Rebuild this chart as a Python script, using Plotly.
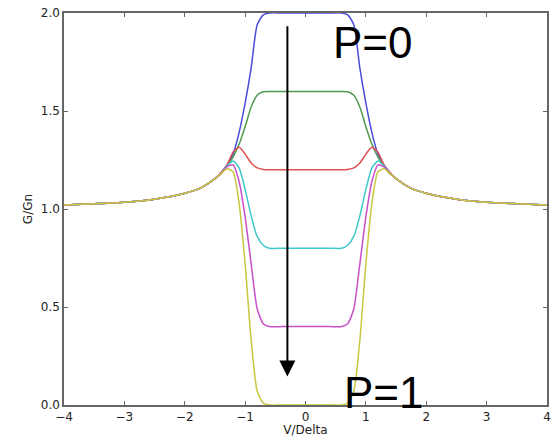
import plotly.graph_objects as go

# V/Delta grid
v = [-4, -3.5, -3, -2.5, -2, -1.75, -1.5, -1.4, -1.3, -1.2, -1.1, -1.0, -0.9, -0.8, -0.7, -0.6,
     -0.4, -0.2, 0, 0.2, 0.4,
     0.6, 0.7, 0.8, 0.9, 1.0, 1.1, 1.2, 1.3, 1.4, 1.5, 1.75, 2, 2.5, 3, 3.5, 4]

g_p00 = [1.02, 1.027, 1.035, 1.05, 1.08, 1.105, 1.155, 1.185, 1.225, 1.28, 1.39, 1.54, 1.72, 1.94, 1.99, 2.0,
         2.0, 2.0, 2.0, 2.0, 2.0,
         2.0, 1.99, 1.94, 1.72, 1.54, 1.39, 1.28, 1.225, 1.185, 1.155, 1.105, 1.08, 1.05, 1.035, 1.027, 1.02]
g_p02 = [1.02, 1.027, 1.035, 1.05, 1.08, 1.105, 1.155, 1.185, 1.22, 1.265, 1.33, 1.42, 1.52, 1.58, 1.598, 1.6,
         1.6, 1.6, 1.6, 1.6, 1.6,
         1.6, 1.598, 1.58, 1.52, 1.42, 1.33, 1.265, 1.22, 1.185, 1.155, 1.105, 1.08, 1.05, 1.035, 1.027, 1.02]
g_p04 = [1.02, 1.027, 1.035, 1.05, 1.08, 1.105, 1.155, 1.185, 1.225, 1.29, 1.315, 1.28, 1.235, 1.21, 1.202, 1.2,
         1.2, 1.2, 1.2, 1.2, 1.2,
         1.2, 1.202, 1.21, 1.235, 1.28, 1.315, 1.29, 1.225, 1.185, 1.155, 1.105, 1.08, 1.05, 1.035, 1.027, 1.02]
g_p06 = [1.02, 1.027, 1.035, 1.05, 1.08, 1.105, 1.155, 1.18, 1.22, 1.245, 1.21, 1.10, 0.965, 0.86, 0.815, 0.80,
         0.8, 0.8, 0.8, 0.8, 0.8,
         0.80, 0.815, 0.86, 0.965, 1.10, 1.21, 1.245, 1.22, 1.18, 1.155, 1.105, 1.08, 1.05, 1.035, 1.027, 1.02]
g_p08 = [1.02, 1.027, 1.035, 1.05, 1.08, 1.105, 1.155, 1.18, 1.215, 1.225, 1.14, 0.96, 0.72, 0.49, 0.415, 0.40,
         0.4, 0.4, 0.4, 0.4, 0.4,
         0.40, 0.415, 0.49, 0.72, 0.96, 1.14, 1.225, 1.215, 1.18, 1.155, 1.105, 1.08, 1.05, 1.035, 1.027, 1.02]
g_p10 = [1.02, 1.027, 1.035, 1.05, 1.08, 1.105, 1.155, 1.18, 1.205, 1.19, 1.03, 0.72, 0.33, 0.07, 0.01, 0.0,
         0.0, 0.0, 0.0, 0.0, 0.0,
         0.0, 0.01, 0.07, 0.33, 0.72, 1.03, 1.19, 1.205, 1.18, 1.155, 1.105, 1.08, 1.05, 1.035, 1.027, 1.02]

series = [g_p00, g_p02, g_p04, g_p06, g_p08, g_p10]
colors = ['#4b4bdc', '#4f9a4f', '#e05050', '#40c8c8', '#c84fc8', '#c8c840']

x_ticks = [-4, -3, -2, -1, 0, 1, 2, 3, 4]
y_ticks = [0.0, 0.5, 1.0, 1.5, 2.0]

fig = go.Figure()
for ys, c in zip(series, colors):
    fig.add_trace(go.Scatter(x=v, y=ys, mode='lines',
                             line=dict(color=c, width=1.5, shape='spline', smoothing=0.6),
                             showlegend=False, hoverinfo='skip'))

axis_common = dict(showline=True, linecolor='#666', linewidth=1.5, mirror='ticks',
                   ticks='inside', ticklen=4, tickwidth=1, tickcolor='#666',
                   showgrid=False, zeroline=False,
                   tickfont=dict(family='DejaVu Sans', size=12, color='#222'),
                   layer='below traces')

fig.update_xaxes(range=[-4, 4], tickvals=x_ticks, ticktext=[f"{t}".replace('-', '\u2212') for t in x_ticks],
                 ticklabeloverflow='allow',
                 title=dict(text='V/Delta', font=dict(family='DejaVu Sans', size=12, color='#222'), standoff=2),
                 **axis_common)
fig.update_yaxes(range=[0, 2], tickvals=y_ticks, ticktext=[f"{t:.1f}" for t in y_ticks],
                 title=dict(text='G/Gn', font=dict(family='DejaVu Sans', size=12, color='#222'), standoff=6),
                 **axis_common)

fig.add_annotation(x=-0.3, y=0.145, ax=-0.3, ay=1.94, xref='x', yref='y', axref='x', ayref='y',
                   showarrow=True, arrowhead=2, arrowwidth=2, arrowsize=1.6, arrowcolor='black', text='')
fig.add_annotation(x=1.118, y=1.85, text='P=0', showarrow=False,
                   font=dict(family='Liberation Sans', size=44, color='black'))
fig.add_annotation(x=1.30, y=0.064, text='P=1', showarrow=False,
                   font=dict(family='Liberation Sans', size=44, color='black'))

fig.update_layout(width=552, height=437, margin=dict(l=64, r=1, t=13, b=32),
                  plot_bgcolor='white', paper_bgcolor='white')

fig.write_html("out.html")
